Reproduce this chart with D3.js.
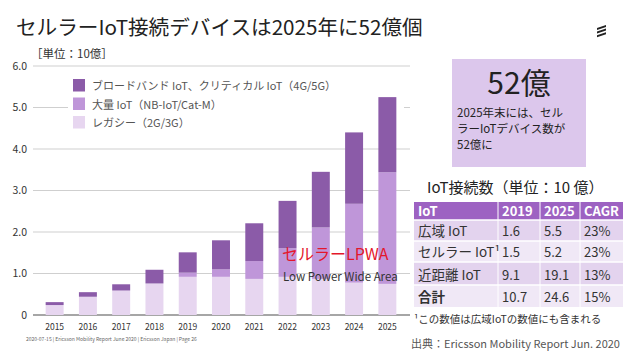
<!DOCTYPE html>
<html>
<head>
<meta charset="utf-8">
<script src="https://cdn.jsdelivr.net/npm/d3@7"></script>
<style>
body { margin: 0; background: #fff; }
svg { display: block; }
text { font-family: "Noto Sans CJK JP", "Noto Sans", sans-serif; }
</style>
</head>
<body>
<svg id="chart" width="630" height="354"></svg>
<script>
// data (unit: 10億)
var years = ['2015','2016','2017','2018','2019','2020','2021','2022','2023','2024','2025'];
var legacy = [0.24, 0.44, 0.59, 0.76, 0.92, 0.92, 0.87, 0.92, 0.87, 0.78, 0.75];
var massive = [0, 0, 0, 0, 0.10, 0.18, 0.43, 0.69, 1.24, 1.90, 2.69];
var broadband = [0.07, 0.11, 0.15, 0.33, 0.49, 0.70, 0.91, 1.14, 1.34, 1.72, 1.81];
var yTicks = [0, 1, 2, 3, 4, 5, 6];
var legendLabels = ['ブロードバンド IoT、クリティカル IoT（4G/5G）', '大量 IoT（NB-IoT/Cat-M）', 'レガシー（2G/3G）'];

var tableHead = ['IoT', '2019', '2025', 'CAGR'];
var tableRows = [
	['広域 IoT', '1.6', '5.5', '23%'],
	['セルラー IoT¹', '1.5', '5.2', '23%'],
	['近距離 IoT', '9.1', '19.1', '13%'],
	['合計', '10.7', '24.6', '15%']
];

var colors = { legacy: '#e7d6f0', massive: '#bf96d9', broadband: '#8b5ba8' };

var svg = d3.select('#chart');

var x = d3.scaleBand()
	.domain(years)
	.range([38, 404])
	.paddingInner(0.46)
	.paddingOuter(0.23);

var y = d3.scaleLinear()
	.domain([0, 6])
	.range([315, 66]);

// title, font size fitted to the width it takes in the picture
var title = svg.append('text')
	.attr('x', 16)
	.attr('y', 35)
	.attr('font-size', 24)
	.attr('fill', '#222')
	.text('セルラーIoT接続デバイスは2025年に52億個');
var tw = title.node().getComputedTextLength();
title.attr('font-size', 24 * 407 / tw);

// ericsson mark
var logo = svg.append('g').attr('fill', '#222');
[0, 1, 2].forEach(function(i) {
	logo.append('path')
		.attr('d', 'M597,' + (28 + i * 3.6) + ' l9,-3 l0,2 l-9,3 z');
});

svg.append('text')
	.attr('x', 31)
	.attr('y', 58)
	.attr('font-size', 11.5)
	.attr('fill', '#333')
	.text('［単位：10億］');

// grid
svg.append('g')
	.selectAll('line')
	.data(yTicks)
	.enter()
	.append('line')
	.attr('x1', 33)
	.attr('x2', 410)
	.attr('y1', d => y(d))
	.attr('y2', d => y(d))
	.attr('stroke', d => d == 0 ? '#888' : '#cfcfcf')
	.attr('stroke-width', d => d == 0 ? 1.5 : 1);

var yaxis = d3.axisLeft(y)
	.tickValues(yTicks)
	.tickSize(0)
	.tickPadding(4)
	.tickFormat(d => d == 0 ? '0' : d3.format('.1f')(d));

svg.append('g')
	.attr('transform', 'translate(31,0)')
	.call(yaxis)
	.call(g => g.select('.domain').remove())
	.selectAll('text')
	.attr('font-family', '"DejaVu Sans Mono", monospace')
	.attr('font-size', 10.5)
	.attr('fill', '#333');

// legend box covering grid
svg.append('rect')
	.attr('x', 68)
	.attr('y', 72)
	.attr('width', 336)
	.attr('height', 62)
	.attr('fill', '#fff');

// stacked bars
var layers = [
	{ key: 'legacy', vals: legacy },
	{ key: 'massive', vals: massive },
	{ key: 'broadband', vals: broadband }
];
var base = years.map(() => 0);
layers.forEach(function(layer) {
	svg.append('g')
		.selectAll('rect')
		.data(years)
		.enter()
		.append('rect')
		.attr('x', d => x(d))
		.attr('width', x.bandwidth())
		.attr('y', (d, i) => y(base[i] + layer.vals[i]))
		.attr('height', (d, i) => y(base[i]) - y(base[i] + layer.vals[i]))
		.attr('fill', colors[layer.key]);
	base = base.map((b, i) => b + layer.vals[i]);
});

var xaxis = d3.axisBottom(x).tickSize(0).tickPadding(9);
svg.append('g')
	.attr('transform', 'translate(0,315)')
	.call(xaxis)
	.call(g => g.select('.domain').remove())
	.selectAll('text')
	.attr('font-family', '"DejaVu Sans Mono", monospace')
	.attr('font-size', 8.5)
	.attr('fill', '#333');

// legend
var legKeys = ['broadband', 'massive', 'legacy'];
var leg = svg.append('g');
legKeys.forEach(function(k, i) {
	leg.append('rect')
		.attr('x', 73)
		.attr('y', 79 + i * 18.5)
		.attr('width', 12)
		.attr('height', 12.5)
		.attr('fill', colors[k]);
	leg.append('text')
		.attr('x', 92)
		.attr('y', 90 + i * 18.5)
		.attr('font-size', 11)
		.attr('fill', '#555')
		.text(legendLabels[i]);
});

// LPWA annotation
svg.append('text')
	.attr('x', 282)
	.attr('y', 260)
	.attr('font-size', 16)
	.attr('fill', '#e4162b')
	.text('セルラーLPWA');
svg.append('text')
	.attr('x', 283)
	.attr('y', 281)
	.attr('font-size', 11.5)
	.attr('fill', '#333')
	.attr('font-family', 'Lato, sans-serif')
	.text('Low Power Wide Area');

// footer
svg.append('text')
	.attr('x', 26)
	.attr('y', 341)
	.attr('font-size', 5)
	.attr('fill', '#666')
	.text('2020-07-15 | Ericsson Mobility Report June 2020 | Ericsson Japan | Page 26');

// 52億 box
svg.append('rect')
	.attr('x', 452)
	.attr('y', 59)
	.attr('width', 134)
	.attr('height', 108)
	.attr('fill', '#dcc7ec');
svg.append('text')
	.attr('x', 519)
	.attr('y', 94)
	.attr('text-anchor', 'middle')
	.attr('font-size', 30)
	.attr('fill', '#222')
	.text('52億');
['2025年末には、セル', 'ラーIoTデバイス数が', '52億に'].forEach(function(t, i) {
	svg.append('text')
		.attr('x', 457)
		.attr('y', 117 + i * 16)
		.attr('font-size', 11.5)
		.attr('fill', '#222')
		.text(t);
});

// table
svg.append('text')
	.attr('x', 427)
	.attr('y', 193)
	.attr('font-size', 15)
	.attr('fill', '#222')
	.text('IoT接続数（単位：10 億）');

var colX = [414, 498, 540, 580, 623];
var rowY = [202, 220, 241, 262, 285, 307];
var tbl = svg.append('g');
tbl.append('rect')
	.attr('x', colX[0]).attr('y', rowY[0])
	.attr('width', colX[4] - colX[0]).attr('height', rowY[1] - rowY[0])
	.attr('fill', '#9d62c2');
tableRows.forEach(function(r, i) {
	tbl.append('rect')
		.attr('x', colX[0]).attr('y', rowY[i + 1])
		.attr('width', colX[4] - colX[0]).attr('height', rowY[i + 2] - rowY[i + 1])
		.attr('fill', i % 2 == 0 ? '#e3d3ee' : '#f0e8f6');
});
tbl.selectAll('.vline')
	.data([1, 2, 3])
	.enter()
	.append('line')
	.attr('x1', d => colX[d]).attr('x2', d => colX[d])
	.attr('y1', rowY[0]).attr('y2', rowY[5])
	.attr('stroke', '#fff').attr('stroke-width', 1);
tbl.selectAll('.hline')
	.data([1, 2, 3, 4])
	.enter()
	.append('line')
	.attr('x1', colX[0]).attr('x2', colX[4])
	.attr('y1', d => rowY[d]).attr('y2', d => rowY[d])
	.attr('stroke', '#fff').attr('stroke-width', 1.5);
tableHead.forEach(function(h, j) {
	tbl.append('text')
		.attr('x', colX[j] + 4)
		.attr('y', rowY[1] - 4.5)
		.attr('font-size', 13)
		.attr('font-weight', 'bold')
		.attr('font-family', j == 0 ? 'Lato, sans-serif' : '"DejaVu Sans Mono", monospace')
		.attr('fill', '#fff')
		.text(h);
});
tableRows.forEach(function(r, i) {
	r.forEach(function(c, j) {
		tbl.append('text')
			.attr('x', colX[j] + 4)
			.attr('y', rowY[i + 2] - 5)
			.attr('font-size', j == 0 ? 13.5 : 13)
			.attr('fill', '#333')
			.attr('font-weight', i == 3 && j == 0 ? 'bold' : 'normal')
			.text(c);
	});
});

svg.append('text')
	.attr('x', 414)
	.attr('y', 323)
	.attr('font-size', 10.5)
	.attr('fill', '#333')
	.text('¹この数値は広域IoTの数値にも含まれる');

svg.append('text')
	.attr('x', 411)
	.attr('y', 348)
	.attr('font-size', 11)
	.attr('fill', '#555')
	.attr('font-family', 'Liberation Sans, sans-serif')
	.text('出典：Ericsson Mobility Report Jun. 2020');
</script>
</body>
</html>
